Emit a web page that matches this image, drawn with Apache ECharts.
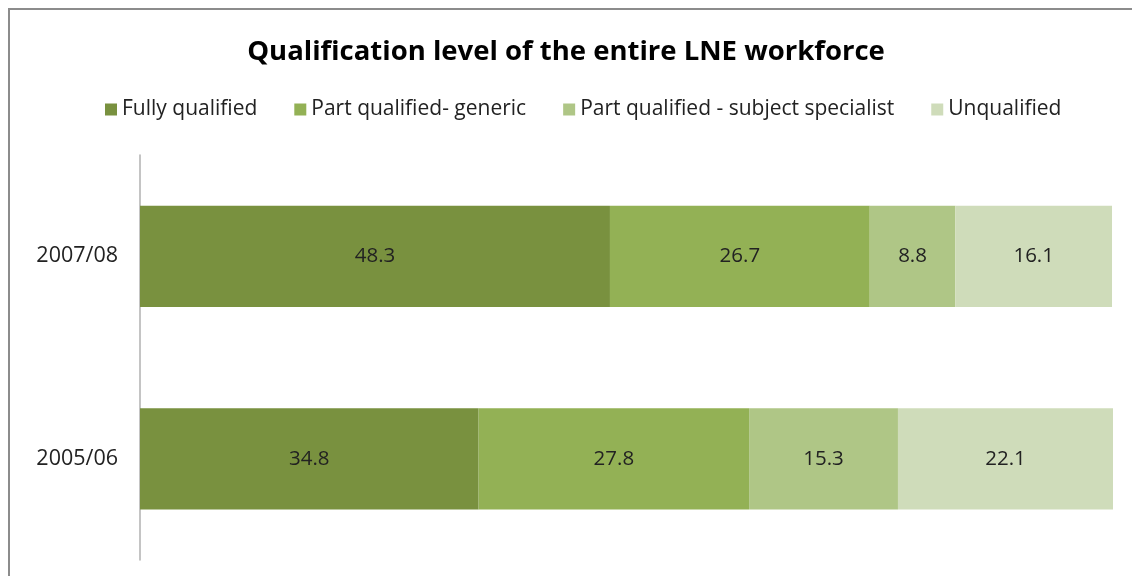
<!DOCTYPE html>
<html><head><meta charset="utf-8">
<script src="https://cdn.jsdelivr.net/npm/echarts@6/dist/echarts.min.js"></script>
<style>html,body{margin:0;padding:0;background:#fff}#c{width:1132px;height:576px}
#frame{position:absolute;left:8px;top:8px;width:1200px;height:700px;border:2px solid #8c8c8c;pointer-events:none}</style>
</head><body><div id="c"></div><div id="frame"></div>
<script>
const categories = ['2005/06', '2007/08'];
const seriesNames = ['Fully qualified', 'Part qualified- generic', 'Part qualified - subject specialist', 'Unqualified'];
const fullyQualified = [34.8, 48.3];
const partGeneric = [27.8, 26.7];
const partSpecialist = [15.3, 8.8];
const unqualified = [22.1, 16.1];
const colors = ['#79913F', '#93B155', '#AFC686', '#CFDCBA'];
const values = [fullyQualified, partGeneric, partSpecialist, unqualified];
const font = '"Open Sans", sans-serif';
const chart = echarts.init(document.getElementById('c'));
chart.setOption({
  animation: false,
  title: {text: 'Qualification level of the entire LNE workforce', left: 'center', top: 33,
    textStyle: {fontFamily: font, fontSize: 27.5, fontWeight: 'bold', color: '#000'}},
  legend: {top: 94, left: 100, itemWidth: 12, itemHeight: 12, itemGap: 37, icon: 'rect',
    textStyle: {fontFamily: font, fontSize: 21, color: '#222'}},
  grid: {left: 140, right: 19, top: 155, bottom: 16},
  xAxis: {type: 'value', min: 0, max: 100, show: false},
  yAxis: {type: 'category', data: categories,
    axisLine: {show: true, lineStyle: {color: '#b0b0b0', width: 1.5}},
    axisTick: {show: false},
    axisLabel: {fontFamily: font, fontSize: 21.5, color: '#222', margin: 22}},
  series: seriesNames.map((n, i) => ({
    name: n, type: 'bar', stack: 'all', data: values[i], barWidth: '50%',
    itemStyle: {color: colors[i]},
    label: {show: true, position: 'inside', fontFamily: font, fontSize: 20.5, color: '#222'}
  }))
});
</script></body></html>
